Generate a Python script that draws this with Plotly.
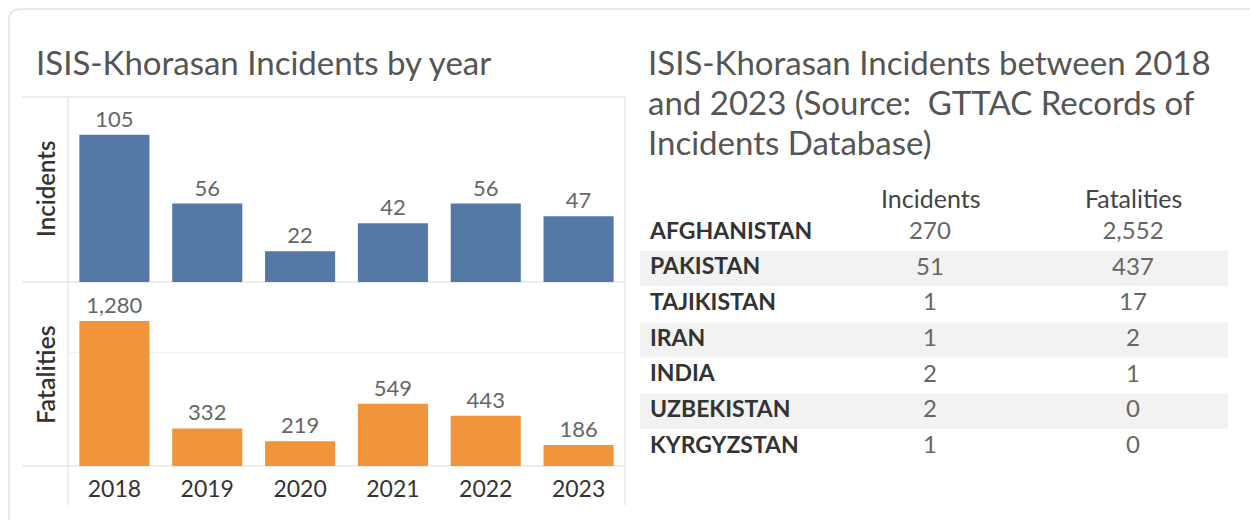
import plotly.graph_objects as go

W, H = 1250, 520

years = ["2018", "2019", "2020", "2021", "2022", "2023"]
incidents_by_year = [105, 56, 22, 42, 56, 47]
fatalities_by_year = [1280, 332, 219, 549, 443, 186]

countries = ["AFGHANISTAN", "PAKISTAN", "TAJIKISTAN", "IRAN", "INDIA", "UZBEKISTAN", "KYRGYZSTAN"]
country_incidents = [270, 51, 1, 1, 2, 2, 1]
country_fatalities = [2552, 437, 17, 2, 1, 0, 0]
table_columns = ["Incidents", "Fatalities"]

left_title = "ISIS-Khorasan Incidents by year"
right_title_lines = ["ISIS-Khorasan Incidents between 2018",
                     "and 2023 (Source:  GTTAC Records of",
                     "Incidents Database)"]

FONT = "Lato"
BLUE = "#5479a6"
ORANGE = "#f0953a"
LINE = "#dcdcdc"
BAND = "#f2f2f2"


def px(x):
    return x / W


def py(y):
    return 1 - y / H


# table geometry (pixel layout constants)
TBL_X0, TBL_X1 = 640, 1228
TBL_Y0, ROW_H = 215, 35.7
TBL_Y1 = TBL_Y0 + ROW_H * len(countries)
COL_X = {"country": 10, "Incidents": 290, "Fatalities": 493}  # offsets from TBL_X0

fig = go.Figure()

fig.add_trace(go.Bar(
    x=years, y=incidents_by_year, xaxis="x", yaxis="y",
    marker=dict(color=BLUE, line=dict(width=0)),
    text=[f"{v:,}" for v in incidents_by_year], textposition="outside",
    textfont=dict(family=FONT, size=22, color="#666"), cliponaxis=False,
    hoverinfo="skip", showlegend=False,
))
fig.add_trace(go.Bar(
    x=years, y=fatalities_by_year, xaxis="x", yaxis="y2",
    marker=dict(color=ORANGE, line=dict(width=0)),
    text=[f"{v:,}" for v in fatalities_by_year], textposition="outside",
    textfont=dict(family=FONT, size=22, color="#666"), cliponaxis=False,
    hoverinfo="skip", showlegend=False,
))

# table: alternating bands
band_rows = countries[1::2]
fig.add_trace(go.Bar(
    y=band_rows, x=[TBL_X1 - TBL_X0] * len(band_rows), base=0, orientation="h",
    xaxis="x3", yaxis="y3", width=0.98, marker=dict(color=BAND, line=dict(width=0)),
    hoverinfo="skip", showlegend=False,
))
# table: country names
fig.add_trace(go.Scatter(
    y=countries, x=[COL_X["country"]] * len(countries), xaxis="x3", yaxis="y3",
    mode="text", text=countries, textposition="middle right",
    textfont=dict(family=FONT, size=23, color="#333", weight="bold"),
    hoverinfo="skip", showlegend=False, cliponaxis=False,
))
# table: values
for col, vals in zip(table_columns, [country_incidents, country_fatalities]):
    fig.add_trace(go.Scatter(
        y=countries, x=[COL_X[col]] * len(countries), xaxis="x3", yaxis="y3",
        mode="text", text=[f"{v:,}" for v in vals], textposition="middle center",
        textfont=dict(family=FONT, size=24, color="#666"),
        hoverinfo="skip", showlegend=False, cliponaxis=False,
    ))

fig.update_layout(
    width=W, height=H,
    margin=dict(l=0, r=0, t=0, b=0),
    paper_bgcolor="white", plot_bgcolor="rgba(0,0,0,0)",
    bargap=0.245,
    xaxis=dict(domain=[px(68), px(625)], anchor="y2", showgrid=False, zeroline=False,
               showline=False, ticks="outside", ticklen=2, tickcolor="rgba(0,0,0,0)",
               tickfont=dict(family=FONT, size=23, color="#333"), fixedrange=True),
    yaxis=dict(domain=[py(282), py(97)], range=[0, 132], showgrid=False, zeroline=False,
               showticklabels=False, showline=False, fixedrange=True),
    yaxis2=dict(domain=[py(466), py(282)], range=[0, 1625], showgrid=True, gridcolor="#f0f0f0",
                dtick=1000, zeroline=False, showticklabels=False, showline=False, fixedrange=True),
    xaxis3=dict(domain=[px(TBL_X0), px(TBL_X1)], anchor="y3", range=[0, TBL_X1 - TBL_X0],
                visible=False, fixedrange=True),
    yaxis3=dict(domain=[py(TBL_Y1), py(TBL_Y0)], anchor="x3", type="category",
                categoryorder="array", categoryarray=countries,
                range=[len(countries) - 0.5, -0.5], visible=False, fixedrange=True),
    font=dict(family=FONT),
)

shapes = []
r = 12
shapes.append(dict(type="path", xref="paper", yref="paper",
                   path=f"M {px(9)},{py(530)} L {px(9)},{py(9 + r)} Q {px(9)},{py(9)} {px(9 + r)},{py(9)} L {px(1260)},{py(9)}",
                   line=dict(color="#e3e3e3", width=1.5), layer="below"))
for yy in (97, 282, 466):
    shapes.append(dict(type="line", xref="paper", yref="paper", x0=px(22), x1=px(625), y0=py(yy), y1=py(yy),
                       line=dict(color=LINE, width=1), layer="below"))
for xx in (68, 625):
    shapes.append(dict(type="line", xref="paper", yref="paper", x0=px(xx), x1=px(xx), y0=py(97), y1=py(505),
                       line=dict(color=LINE, width=1), layer="below"))
fig.update_layout(shapes=shapes)

ann = []
ann.append(dict(text=left_title, xref="paper", yref="paper", x=px(34), y=py(62), xanchor="left", yanchor="middle",
                showarrow=False, font=dict(family=FONT, size=33, color="#555")))
for i, line in enumerate(right_title_lines):
    ann.append(dict(text=line, xref="paper", yref="paper", x=px(646), y=py(62 + 40 * i), xanchor="left",
                    yanchor="middle", showarrow=False, font=dict(family=FONT, size=33, color="#555")))
for col in table_columns:
    ann.append(dict(text=col, xref="x3", yref="paper", x=COL_X[col], y=py(198), xanchor="center",
                    yanchor="middle", showarrow=False, font=dict(family=FONT, size=25, color="#444")))
ann.append(dict(text="Incidents", xref="paper", yref="paper", x=px(45), y=py(189), textangle=-90,
                xanchor="center", yanchor="middle", showarrow=False,
                font=dict(family=FONT, size=24, color="#333", weight=600)))
ann.append(dict(text="Fatalities", xref="paper", yref="paper", x=px(45), y=py(375), textangle=-90,
                xanchor="center", yanchor="middle", showarrow=False,
                font=dict(family=FONT, size=25, color="#333", weight=600)))
fig.update_layout(annotations=ann)

fig.write_html("out.html")
